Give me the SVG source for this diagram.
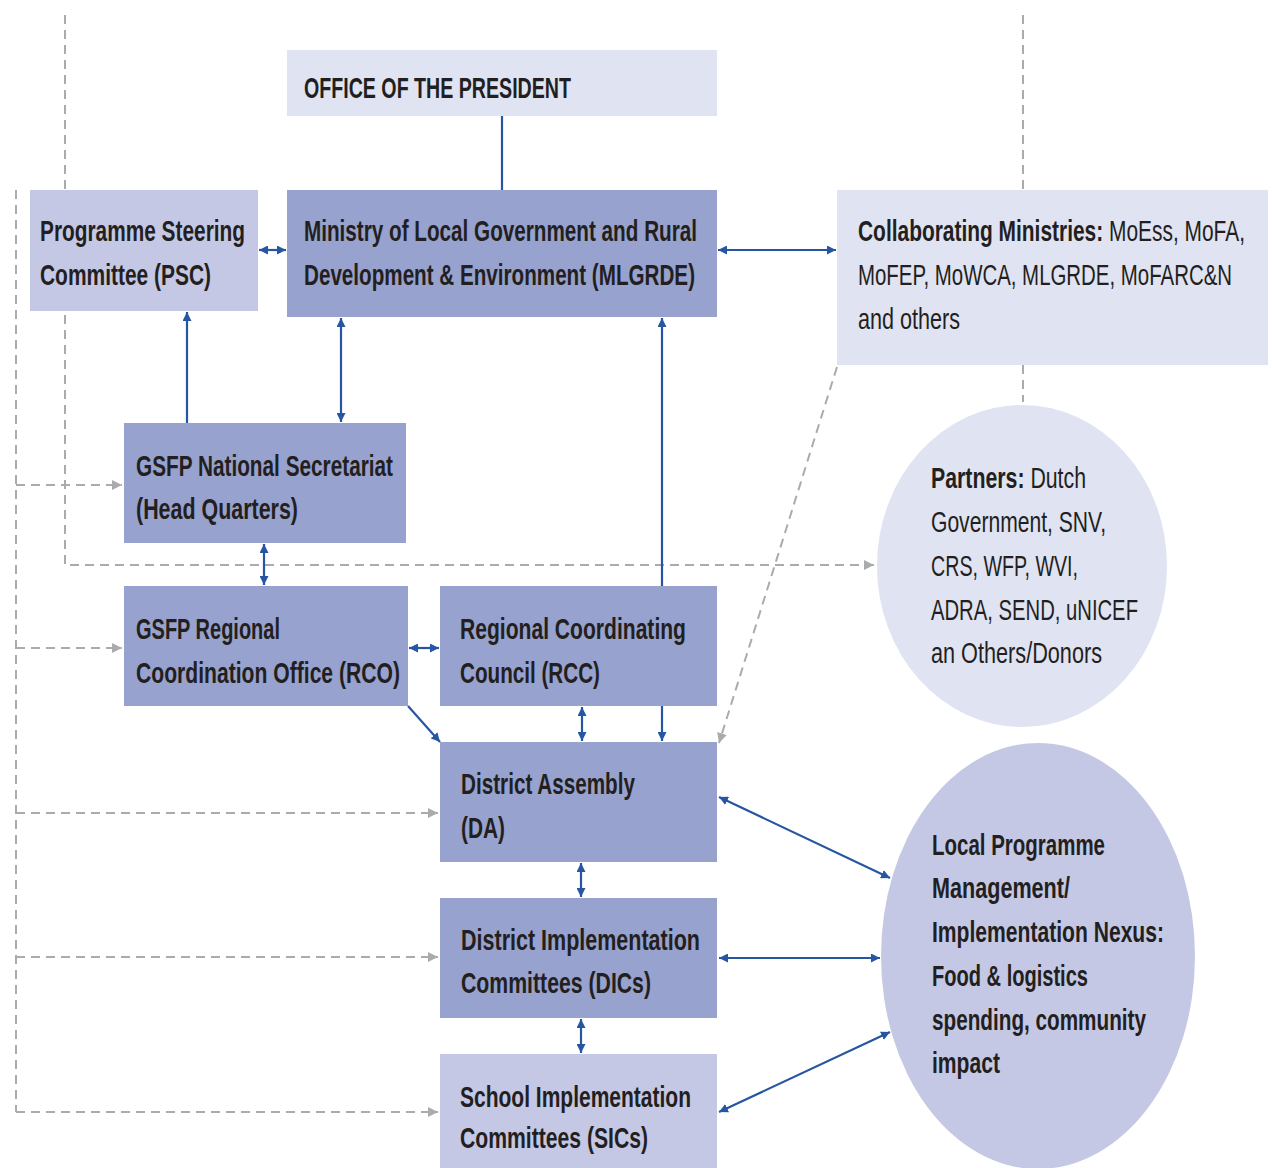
<svg xmlns="http://www.w3.org/2000/svg" width="1272" height="1168" viewBox="0 0 1272 1168">
<style>
.dark{fill:#97a2ce}
.mid{fill:#c4c8e5}
.light{fill:#e0e3f2}
.t{font-family:"Liberation Sans Narrow","Liberation Sans",Arial,sans-serif;font-size:30px;font-weight:bold;fill:#231f20}
.r{font-weight:normal}
.blue{stroke:#2656a2;stroke-width:2.2;fill:none}
.dash{stroke:#a9abae;stroke-width:2;fill:none;stroke-dasharray:9 6}
</style>
<defs>
<marker id="ab" viewBox="0 0 10 10" refX="10" refY="5" markerWidth="9" markerHeight="9" markerUnits="userSpaceOnUse" orient="auto-start-reverse">
<path d="M0,0 L10,5 L0,10 z" fill="#2656a2"/>
</marker>
<marker id="ag" viewBox="0 0 10 10" refX="10" refY="5" markerWidth="10" markerHeight="10" markerUnits="userSpaceOnUse" orient="auto-start-reverse">
<path d="M0,0 L10,5 L0,10 z" fill="#a9abae"/>
</marker>
</defs>
<rect width="1272" height="1168" fill="#ffffff"/>

<g id="connectors">
<path class="dash" d="M65,15 V565 H874" marker-end="url(#ag)"/>
<path class="dash" d="M16,190 V1112"/>
<path class="dash" d="M16,485 H122" marker-end="url(#ag)"/>
<path class="dash" d="M16,648 H122" marker-end="url(#ag)"/>
<path class="dash" d="M16,813 H438" marker-end="url(#ag)"/>
<path class="dash" d="M16,957 H438" marker-end="url(#ag)"/>
<path class="dash" d="M16,1112 H438" marker-end="url(#ag)"/>
<path class="dash" d="M1023,15 V190"/>
<path class="dash" d="M1023,365 V402"/>
<path class="dash" d="M837,367 L719,743" marker-end="url(#ag)"/>
<path class="blue" d="M502,116 V190"/>
<path class="blue" d="M259,250 H286" marker-start="url(#ab)" marker-end="url(#ab)"/>
<path class="blue" d="M718,250 H836" marker-start="url(#ab)" marker-end="url(#ab)"/>
<path class="blue" d="M187,423 V312" marker-end="url(#ab)"/>
<path class="blue" d="M341,318 V422" marker-start="url(#ab)" marker-end="url(#ab)"/>
<path class="blue" d="M662,586 V318" marker-end="url(#ab)"/>
<path class="blue" d="M662,706 V741" marker-end="url(#ab)"/>
<path class="blue" d="M582,707 V741" marker-start="url(#ab)" marker-end="url(#ab)"/>
<path class="blue" d="M264,544 V585" marker-start="url(#ab)" marker-end="url(#ab)"/>
<path class="blue" d="M409,648 H439" marker-start="url(#ab)" marker-end="url(#ab)"/>
<path class="blue" d="M408,706 L440,742" marker-end="url(#ab)"/>
<path class="blue" d="M581,863 V897" marker-start="url(#ab)" marker-end="url(#ab)"/>
<path class="blue" d="M581,1019 V1053" marker-start="url(#ab)" marker-end="url(#ab)"/>
<path class="blue" d="M719,797 L890,878" marker-start="url(#ab)" marker-end="url(#ab)"/>
<path class="blue" d="M719,958 H880" marker-start="url(#ab)" marker-end="url(#ab)"/>
<path class="blue" d="M719,1112 L890,1032" marker-start="url(#ab)" marker-end="url(#ab)"/>
</g>

<g id="president">
<rect class="light" x="287" y="50" width="430" height="66"/>
<text class="t" x="304" y="98" textLength="267" lengthAdjust="spacingAndGlyphs">OFFICE OF THE PRESIDENT</text>
</g>

<g id="psc">
<rect class="mid" x="30" y="190" width="228" height="121"/>
<text class="t" x="40" y="241" textLength="205" lengthAdjust="spacingAndGlyphs">Programme Steering</text>
<text class="t" x="40" y="285" textLength="171" lengthAdjust="spacingAndGlyphs">Committee (PSC)</text>
</g>

<g id="mlgrde">
<rect class="dark" x="287" y="190" width="430" height="127"/>
<text class="t" x="304" y="241" textLength="393" lengthAdjust="spacingAndGlyphs">Ministry of Local Government and Rural</text>
<text class="t" x="304" y="285" textLength="391" lengthAdjust="spacingAndGlyphs">Development &amp; Environment (MLGRDE)</text>
</g>

<g id="collaborating">
<rect class="light" x="837" y="190" width="431" height="175"/>
<text class="t" x="858" y="241" textLength="387" lengthAdjust="spacingAndGlyphs">Collaborating Ministries: <tspan class="r">MoEss, MoFA,</tspan></text>
<text class="t r" x="858" y="285" textLength="374" lengthAdjust="spacingAndGlyphs">MoFEP, MoWCA, MLGRDE, MoFARC&amp;N</text>
<text class="t r" x="858" y="329" textLength="102" lengthAdjust="spacingAndGlyphs">and others</text>
</g>

<g id="national">
<rect class="dark" x="124" y="423" width="282" height="120"/>
<text class="t" x="136" y="476" textLength="257" lengthAdjust="spacingAndGlyphs">GSFP National Secretariat</text>
<text class="t" x="136" y="519" textLength="162" lengthAdjust="spacingAndGlyphs">(Head Quarters)</text>
</g>

<g id="regional">
<rect class="dark" x="124" y="586" width="284" height="120"/>
<text class="t" x="136" y="639" textLength="144" lengthAdjust="spacingAndGlyphs">GSFP Regional</text>
<text class="t" x="136" y="683" textLength="264" lengthAdjust="spacingAndGlyphs">Coordination Office (RCO)</text>
</g>

<g id="rcc">
<rect class="dark" x="440" y="586" width="277" height="120"/>
<text class="t" x="460" y="639" textLength="226" lengthAdjust="spacingAndGlyphs">Regional Coordinating</text>
<text class="t" x="460" y="683" textLength="140" lengthAdjust="spacingAndGlyphs">Council (RCC)</text>
</g>

<g id="da">
<rect class="dark" x="440" y="742" width="277" height="120"/>
<text class="t" x="461" y="794" textLength="174" lengthAdjust="spacingAndGlyphs">District Assembly</text>
<text class="t" x="461" y="838" textLength="44" lengthAdjust="spacingAndGlyphs">(DA)</text>
</g>

<g id="dics">
<rect class="dark" x="440" y="898" width="277" height="120"/>
<text class="t" x="461" y="950" textLength="239" lengthAdjust="spacingAndGlyphs">District Implementation</text>
<text class="t" x="461" y="993" textLength="190" lengthAdjust="spacingAndGlyphs">Committees (DICs)</text>
</g>

<g id="sics">
<rect class="mid" x="440" y="1054" width="277" height="120"/>
<text class="t" x="460" y="1107" textLength="231" lengthAdjust="spacingAndGlyphs">School Implementation</text>
<text class="t" x="460" y="1148" textLength="188" lengthAdjust="spacingAndGlyphs">Committees (SICs)</text>
</g>

<g id="partners">
<ellipse class="light" cx="1022" cy="566" rx="145" ry="161"/>
<text class="t" x="931" y="488" textLength="155" lengthAdjust="spacingAndGlyphs">Partners: <tspan class="r">Dutch</tspan></text>
<text class="t r" x="931" y="532" textLength="175" lengthAdjust="spacingAndGlyphs">Government, SNV,</text>
<text class="t r" x="931" y="576" textLength="147" lengthAdjust="spacingAndGlyphs">CRS, WFP, WVI,</text>
<text class="t r" x="931" y="620" textLength="207" lengthAdjust="spacingAndGlyphs">ADRA, SEND, uNICEF</text>
<text class="t r" x="931" y="663" textLength="171" lengthAdjust="spacingAndGlyphs">an Others/Donors</text>
</g>

<g id="local">
<ellipse class="mid" cx="1038" cy="956" rx="157" ry="213"/>
<text class="t" x="932" y="855" textLength="173" lengthAdjust="spacingAndGlyphs">Local Programme</text>
<text class="t" x="932" y="898" textLength="138" lengthAdjust="spacingAndGlyphs">Management/</text>
<text class="t" x="932" y="942" textLength="232" lengthAdjust="spacingAndGlyphs">Implementation Nexus:</text>
<text class="t" x="932" y="986" textLength="156" lengthAdjust="spacingAndGlyphs">Food &amp; logistics</text>
<text class="t" x="932" y="1030" textLength="214" lengthAdjust="spacingAndGlyphs">spending, community</text>
<text class="t" x="932" y="1073" textLength="68" lengthAdjust="spacingAndGlyphs">impact</text>
</g>
</svg>
